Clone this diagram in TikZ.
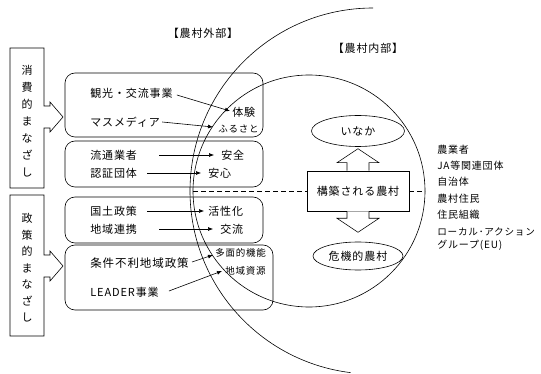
\documentclass[tikz,border=0pt]{standalone}
\usepackage{fontspec}
\setmainfont{Noto Sans CJK JP}[LetterSpace=8]
\usetikzlibrary{arrows.meta,shapes.geometric,calc}
\begin{document}
\begin{tikzpicture}[x=1pt,y=-1pt,line width=0.6pt,
  txt/.style={inner sep=0pt,anchor=west,font=\fontsize{11}{13}\selectfont},
  sm/.style={inner sep=0pt,anchor=west,font=\fontsize{9.5}{11}\selectfont},
  lst/.style={inner sep=0pt,anchor=west,font=\fontsize{10}{12}\selectfont},
  rbox/.style={draw,rounded corners=10pt},
  arr/.style={-{Latex[length=5pt,width=4pt]},line width=0.6pt},
  blk/.style={draw,fill=white,line width=0.6pt,line join=miter}]
\useasboundingbox (0,0) rectangle (541,374);
% circles
\draw (309,191) circle[radius=116];
\draw (373,8) arc[start angle=270,end angle=97,radius=183];
% dashed line
\draw[dashed,dash pattern=on 5pt off 3pt] (193,191) -- (425,191);
% left boxes
\draw (10,48) -- (44,48) -- (44,106) -- (50,106) -- (50,102) -- (63,117) -- (50,132) -- (50,128) -- (44,128) -- (44,188) -- (10,188) -- cycle;
\draw (10,195) -- (44,195) -- (44,255) -- (50,255) -- (50,251) -- (63,266) -- (50,281) -- (50,277) -- (44,277) -- (44,336) -- (10,336) -- cycle;
\node[inner sep=0pt,align=center,font=\fontsize{11}{17}\selectfont] (lv1) at (27,121) {消\\費\\的\\ま\\な\\ざ\\し};
\node[inner sep=0pt,align=center,font=\fontsize{11}{16.5}\selectfont] (lv2) at (27,268) {政\\策\\的\\ま\\な\\ざ\\し};
% rounded boxes
\draw[rbox] (65,73) rectangle (263,137);
\draw[rbox] (65,141) rectangle (263,187);
\draw[rbox] (65,197) rectangle (263,243);
\draw[rbox] (65,245) rectangle (273,310);
% labels
\node[inner sep=0pt,font=\fontsize{11}{13}\selectfont] (lout) at (203,33) {【農村外部】};
\node[inner sep=0pt,font=\fontsize{11}{13}\selectfont] (lin) at (368,48) {【農村内部】};
% texts in boxes
\node[txt] (a1) at (90,93) {観光・交流事業};
\node[txt] (a2) at (90,122) {マスメディア};
\node[txt] (t1) at (232,112) {体験};
\node[sm]  (t2) at (218,129) {ふるさと};
\node[txt] (b1) at (90,155) {流通業者};
\node[txt] (b2) at (90,173) {認証団体};
\node[txt] (u1) at (221,155) {安全};
\node[txt] (u2) at (208,173) {安心};
\node[txt] (c1) at (90,211) {国土政策};
\node[txt] (c2) at (90,229) {地域連携};
\node[txt] (v1) at (208,211) {活性化};
\node[txt] (v2) at (220,229) {交流};
\node[txt,font=\fontsize{11.5}{13}\selectfont] (d1) at (90,263) {条件不利地域政策};
\node[txt] (d2) at (90,292) {LEADER事業};
\node[sm]  (w1) at (215,253) {多面的機能};
\node[sm]  (w2) at (225,271) {地域資源};
% arrows
\draw[arr] ([shift={(4,2)}]a1.east) -- ([shift={(-2,-1)}]t1.west);
\draw[arr] ([xshift=2]a2.east) -- ([shift={(-5,-2)}]t2.west);
\draw[arr] ([xshift=22]b1.east) -- ([xshift=-7]u1.west);
\draw[arr] ([xshift=10]b2.east) -- ([xshift=-7]u2.west);
\draw[arr] ([xshift=10]c1.east) -- ([xshift=-4]v1.west);
\draw[arr] ([xshift=22]c2.east) -- ([xshift=-7]v2.west);
\draw[arr] ([shift={(3,-1)}]d1.east) -- ([shift={(-2,2)}]w1.west);
\draw[arr] ([shift={(10,-1)}]d2.east) -- ([shift={(-3,0)}]w2.west);
% center
\node[draw,fill=white,minimum width=102pt,minimum height=40pt,inner sep=0pt,font=\fontsize{11}{13}\selectfont] (k) at (358,191) {構築される農村};
\node[draw,ellipse,minimum width=93pt,minimum height=31pt,inner sep=0pt,font=\fontsize{11}{13}\selectfont] (inaka) at (358,131) {いなか};
\node[draw,ellipse,minimum width=90pt,minimum height=28pt,inner sep=0pt,font=\fontsize{11}{13}\selectfont] (kiki) at (358,256) {危機的農村};
\draw[blk] ([shift={(-11,0)}]k.north) -- ([shift={(-11,-8)}]k.north) -- ([shift={(-21,-8)}]k.north) -- ([shift={(0,-22)}]k.north) -- ([shift={(21,-8)}]k.north) -- ([shift={(11,-8)}]k.north) -- ([shift={(11,0)}]k.north);
\draw[blk] ([shift={(-11,0)}]k.south) -- ([shift={(-11,7)}]k.south) -- ([shift={(-21,7)}]k.south) -- ([shift={(0,21)}]k.south) -- ([shift={(21,7)}]k.south) -- ([shift={(11,7)}]k.south) -- ([shift={(11,0)}]k.south);
% right list
\node[lst] (r1) at (437,150) {農業者};
\node[lst] (r2) at (437,166) {JA等関連団体};
\node[lst] (r3) at (437,182) {自治体};
\node[lst] (r4) at (437,199) {農村住民};
\node[lst] (r5) at (437,215) {住民組織};
\node[lst,font=\fontsize{9.6}{12}\selectfont] (r6) at (437,232) {ローカル･アクション};
\node[lst] (r7) at (437,245) {グループ(EU)};
\end{tikzpicture}
\end{document}
